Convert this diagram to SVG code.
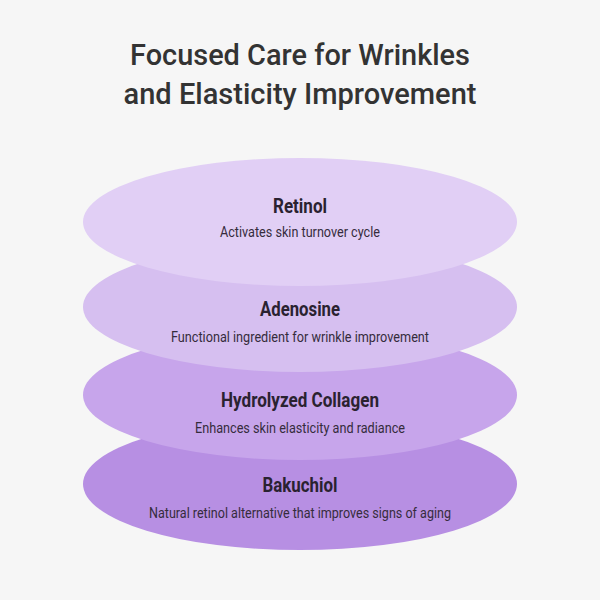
<svg xmlns="http://www.w3.org/2000/svg" width="600" height="600" viewBox="0 0 600 600">
<style>
.title{font-family:Roboto,"Liberation Sans",sans-serif;font-size:30px;font-weight:500;fill:#333333;text-anchor:middle}
.name{font-family:Roboto,"Liberation Sans",sans-serif;font-size:21px;font-weight:700;fill:#2a2230;text-anchor:middle}
.desc{font-family:Roboto,"Liberation Sans",sans-serif;font-size:15px;font-weight:400;fill:#352c3c;text-anchor:middle}
</style>
<rect width="600" height="600" fill="#f6f6f6"/>
<text class="title" x="300" y="65" textLength="340" lengthAdjust="spacingAndGlyphs">Focused Care for Wrinkles</text>
<text class="title" x="300" y="104" textLength="353" lengthAdjust="spacingAndGlyphs">and Elasticity Improvement</text>
<g id="bakuchiol">
<ellipse cx="300" cy="484" rx="217" ry="66" fill="#b78fe3"/>
<text class="name" x="300" y="492" textLength="75" lengthAdjust="spacingAndGlyphs">Bakuchiol</text>
<text class="desc" x="300" y="518" textLength="302" lengthAdjust="spacingAndGlyphs">Natural retinol alternative that improves signs of aging</text>
</g>
<g id="collagen">
<ellipse cx="300" cy="395" rx="217" ry="65" fill="#c7a5eb"/>
<text class="name" x="300" y="407" textLength="158" lengthAdjust="spacingAndGlyphs">Hydrolyzed Collagen</text>
<text class="desc" x="300" y="433" textLength="210" lengthAdjust="spacingAndGlyphs">Enhances skin elasticity and radiance</text>
</g>
<g id="adenosine">
<ellipse cx="300" cy="307" rx="217" ry="65" fill="#d6bff0"/>
<text class="name" x="300" y="316" textLength="80" lengthAdjust="spacingAndGlyphs">Adenosine</text>
<text class="desc" x="300" y="342" textLength="258" lengthAdjust="spacingAndGlyphs">Functional ingredient for wrinkle improvement</text>
</g>
<g id="retinol">
<ellipse cx="300" cy="222" rx="217" ry="64" fill="#e1cff5"/>
<text class="name" x="300" y="213" textLength="54" lengthAdjust="spacingAndGlyphs">Retinol</text>
<text class="desc" x="300" y="237" textLength="160" lengthAdjust="spacingAndGlyphs">Activates skin turnover cycle</text>
</g>
<g id="connectors"/>
</svg>
